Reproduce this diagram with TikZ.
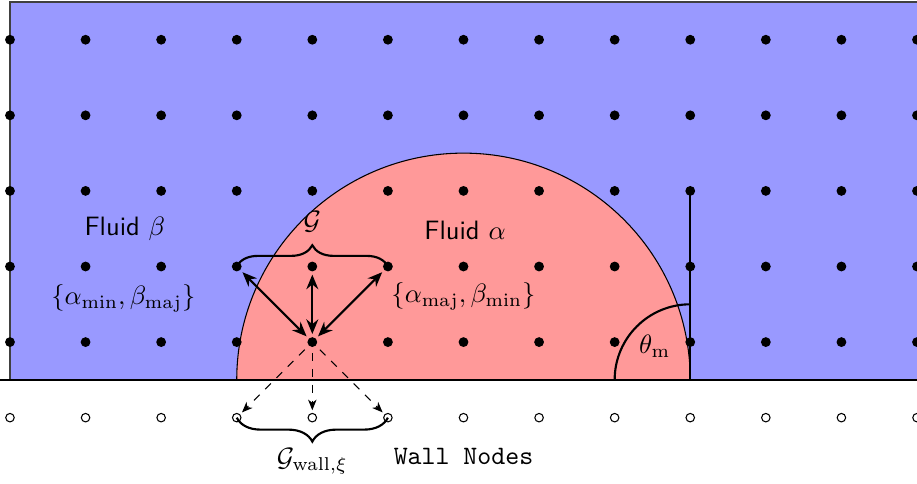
\documentclass[tikz,border=0pt]{standalone}
\usetikzlibrary{decorations.pathreplacing,arrows.meta}
\begin{document}
\begin{tikzpicture}[
  dot/.style={circle,fill=black,inner sep=0pt,minimum size=3.7pt},
  wnode/.style={circle,draw=black,fill=white,inner sep=0pt,minimum size=3.2pt,line width=0.4pt},
  sflbl/.style={font=\sffamily},
  dbl/.style={thick,{Stealth[length=5.5pt,width=4.5pt,inset=1.8pt]}-{Stealth[length=5.5pt,width=4.5pt,inset=1.8pt]},shorten <=1pt,shorten >=1pt},
  dsh/.style={dashed,-{Stealth[length=4pt,width=3.2pt,inset=1.2pt]},shorten <=2pt,shorten >=1pt},
  bracestyle/.style={thick,decorate}
]
\useasboundingbox (-0.132,-1.376) rectangle (12.0,5.026);
\clip (-0.132,-1.376) rectangle (12.0,5.026);
% fluid beta
\fill[blue!40] (0,0) rectangle (12.5,5);
\draw[black!75,line width=0.5pt] (0,0) -- (0,5) -- (12.5,5);
% fluid alpha droplet
\filldraw[fill=red!40,draw=black,line width=0.4pt] (3,0) arc (180:0:3);
\draw[black,line width=0.5pt] (-0.2,0) -- (12.5,0);
% lattice nodes
\foreach \i in {0,...,12}{
  \foreach \j in {0,...,4}{
    \node[dot] (n-\i-\j) at (\i,\j+0.5) {};
  }
  \node[wnode] (w-\i) at (\i,-0.5) {};
}
% neighbour arrows
\draw[dbl] (n-4-0) -- (n-3-1);
\draw[dbl] (n-4-0) -- (n-4-1);
\draw[dbl] (n-4-0) -- (n-5-1);
\draw[dsh] (n-4-0) -- (w-3);
\draw[dsh] (n-4-0) -- (w-4);
\draw[dsh] (n-4-0) -- (w-5);
% braces
\draw[bracestyle,decoration={brace,amplitude=8pt}] (n-3-1.center) -- (n-5-1.center);
\node (G) at (4,2.09) {$\mathcal{G}$};
\draw[bracestyle,decoration={brace,amplitude=9pt}] (w-5.center) -- (w-3.center);
\node (Gw) at (4,-1.08) {$\mathcal{G}_{\mathrm{wall},\xi}$};
% contact angle
\coordinate (c9) at (9,0);
\coordinate (a0) at (8,0);
\draw[thick] (c9) -- (n-9-2.center);
\draw[thick] (a0) arc (180:90:1);
\node (th) at (8.53,0.45) {$\theta_{\mathrm{m}}$};
% labels
\node[sflbl] (fb) at (1.52,2.0) {Fluid $\beta$};
\node[sflbl] (fa) at (6.02,1.98) {Fluid $\alpha$};
\node (sb) at (1.5,1.08) {$\{\alpha_{\min},\beta_{\mathrm{maj}}\}$};
\node (sa) at (6.0,1.1) {$\{\alpha_{\mathrm{maj}},\beta_{\min}\}$};
\node[font=\ttfamily] (wn) at (6.0,-1.02) {Wall Nodes};
\end{tikzpicture}
\end{document}
